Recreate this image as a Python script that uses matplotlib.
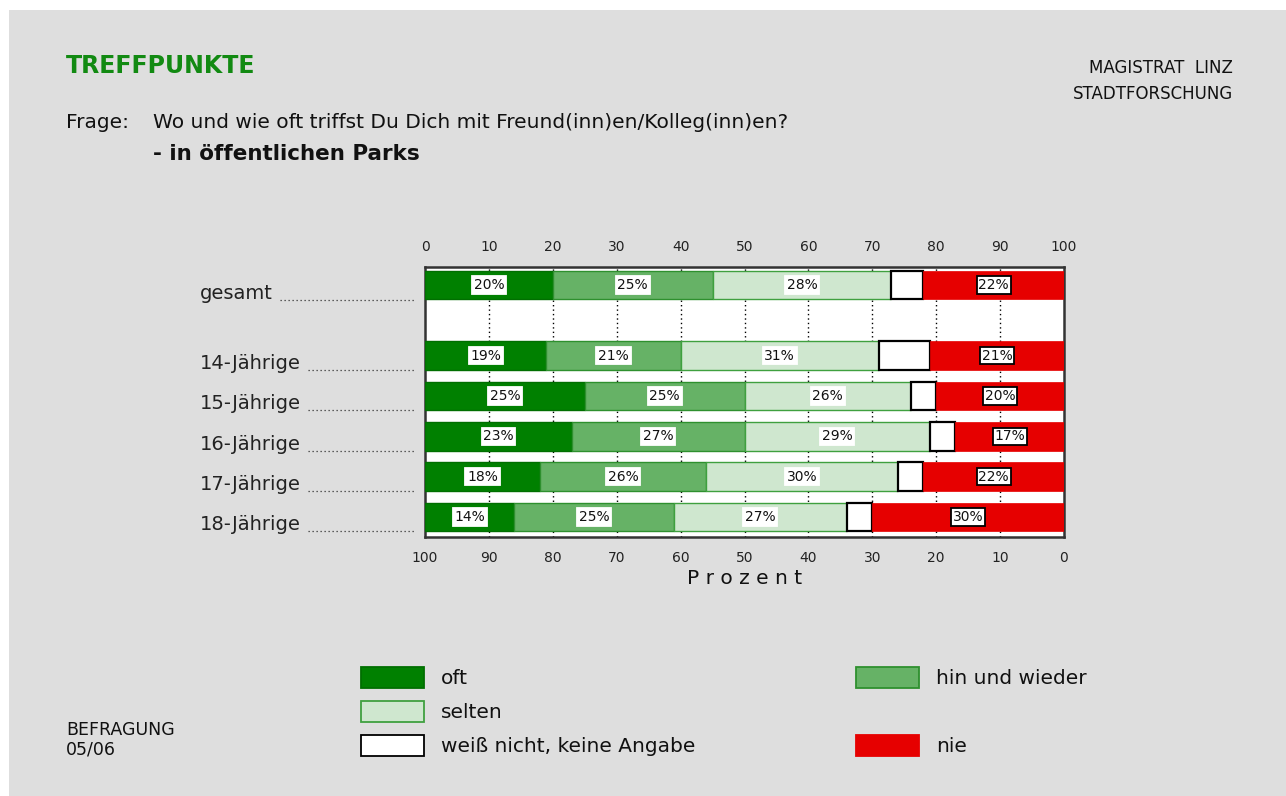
import matplotlib
matplotlib.use("Agg")
import matplotlib.pyplot as plt
from matplotlib.patches import Rectangle
from matplotlib.lines import Line2D
from matplotlib.transforms import IdentityTransform, offset_copy

plt.rcParams['font.family'] = ['DejaVu Sans']

# ---------------- data ----------------
groups = ["gesamt", "14-Jährige", "15-Jährige", "16-Jährige", "17-Jährige", "18-Jährige"]
oft = [20, 19, 25, 23, 18, 14]
hin_und_wieder = [25, 21, 25, 27, 26, 25]
selten = [28, 31, 26, 29, 30, 27]
weiss_nicht = [5, 8, 4, 4, 4, 4]
nie = [22, 21, 20, 17, 22, 30]
series_names = ["oft", "hin und wieder", "selten", "weiß nicht, keine Angabe", "nie"]
top_ticks = [0, 10, 20, 30, 40, 50, 60, 70, 80, 90, 100]
bottom_tick_labels = ["100", "90", "80", "70", "60", "50", "40", "30", "20", "10", "0"]

# ---------------- style ----------------
W, H = 1286, 796
fig = plt.figure(figsize=(W / 100, H / 100), dpi=100)
fig.patch.set_facecolor("white")
fig.add_artist(Rectangle((9 / W, 0), 1 - 9 / W, 1 - 10 / H, transform=fig.transFigure,
                         facecolor="#dedede", edgecolor="none", zorder=-10))

face = ["#008000", "#66b266", "#cfe7cf", "#ffffff", "#e60000"]
edge = ["#006f00", "#2e902e", "#3fa03f", "#000000", "#e60000"]
lw = [1.0, 1.0, 1.0, 1.6, 0.5]

ax = fig.add_axes([425 / W, 1 - 537 / H, 639 / W, 270 / H])
ax.set_facecolor("white")

ypos = [0, 1.75, 2.75, 3.75, 4.75, 5.75]
bar_h = 0.71
series = [oft, hin_und_wieder, selten, weiss_nicht, nie]

left = [0] * len(groups)
for si, vals in enumerate(series):
    ax.barh(ypos, vals, left=left, height=bar_h, color=face[si], edgecolor=edge[si],
            linewidth=lw[si], zorder=3)
    if si != 3:
        for yi, (l, v) in enumerate(zip(left, vals)):
            bbox = dict(boxstyle="square,pad=0.12", facecolor="white",
                        edgecolor="black" if si == 4 else "white", linewidth=1.3)
            ax.text(l + v / 2, ypos[yi], f"{v}%", ha="center", va="center",
                    fontsize=10, color="#111111", bbox=bbox, zorder=5)
    left = [a + b for a, b in zip(left, vals)]

ax.set_xlim(0, 100)
ax.set_ylim(6.25, -0.45)
for t in top_ticks[1:-1]:
    ax.axvline(t, color="black", linestyle=(0, (1, 2.2)), linewidth=1.0, zorder=1)

ax.set_yticks([])
ax.set_xticks(top_ticks)
ax.set_xticklabels(bottom_tick_labels, fontsize=10, color="#222222")
ax.tick_params(axis="x", length=0, pad=10)
sec = ax.secondary_xaxis("top")
sec.set_xticks(top_ticks)
sec.set_xticklabels([str(t) for t in top_ticks], fontsize=10, color="#222222")
sec.tick_params(axis="x", length=0, pad=9)
for s in sec.spines.values():
    s.set_visible(False)
for s in ax.spines.values():
    s.set_linewidth(1.8)
    s.set_color("#333333")
ax.set_xlabel("P r o z e n t", fontsize=14.5, color="#111111", labelpad=3)

# category labels with dotted leaders
fig.canvas.draw()
renderer = fig.canvas.get_renderer()
for yi, g in enumerate(groups):
    trans = offset_copy(ax.transData, fig=fig, x=0, y=-8, units="dots")
    x_data = (200 - 425) / 639 * 100
    t = ax.text(x_data, ypos[yi], g, ha="left", va="center", fontsize=14,
                color="#222222", transform=trans, clip_on=False)
    bb = t.get_window_extent(renderer)
    ybase = bb.y0 + 3
    fig.add_artist(Line2D([bb.x1 + 7, 416], [ybase, ybase], transform=IdentityTransform(),
                          color="#333333", linewidth=0.9, linestyle=(0, (1, 2.2))))

# ---------------- titles ----------------
def fx(px):
    return px / W

def fy(py):
    return 1 - py / H

fig.text(fx(66), fy(66), "TREFFPUNKTE", fontsize=17, fontweight="bold",
         color="#128a12", ha="left", va="center")
fig.text(fx(66), fy(122), "Frage:", fontsize=14.5, color="#111111", ha="left", va="center")
fig.text(fx(153), fy(122), "Wo und wie oft triffst Du Dich mit Freund(inn)en/Kolleg(inn)en?",
         fontsize=14.5, color="#111111", ha="left", va="center")
fig.text(fx(153), fy(154), "- in öffentlichen Parks", fontsize=15.5, fontweight="bold",
         color="#111111", ha="left", va="center")
fig.text(fx(1233), fy(68), "MAGISTRAT  LINZ", fontsize=12, color="#111111",
         ha="right", va="center")
fig.text(fx(1233), fy(94), "STADTFORSCHUNG", fontsize=12, color="#111111",
         ha="right", va="center")
fig.text(fx(66), fy(730), "BEFRAGUNG", fontsize=12.5, color="#111111", ha="left", va="center")
fig.text(fx(66), fy(750), "05/06", fontsize=12.5, color="#111111", ha="left", va="center")

# ---------------- legend ----------------
leg_pos = [(361, 667), (856, 667), (361, 701), (361, 735), (856, 735)]
for si, name in enumerate(series_names):
    px, py = leg_pos[si]
    fig.add_artist(Rectangle((fx(px), fy(py + 21)), 63 / W, 21 / H, transform=fig.transFigure,
                             facecolor=face[si], edgecolor=edge[si] if si != 4 else "#e60000",
                             linewidth=1.3))
    fig.text(fx(px + 80), fy(py + 11), name, fontsize=14.5, color="#111111",
             ha="left", va="center")

fig.savefig("out.png", dpi=100, facecolor=fig.get_facecolor())
